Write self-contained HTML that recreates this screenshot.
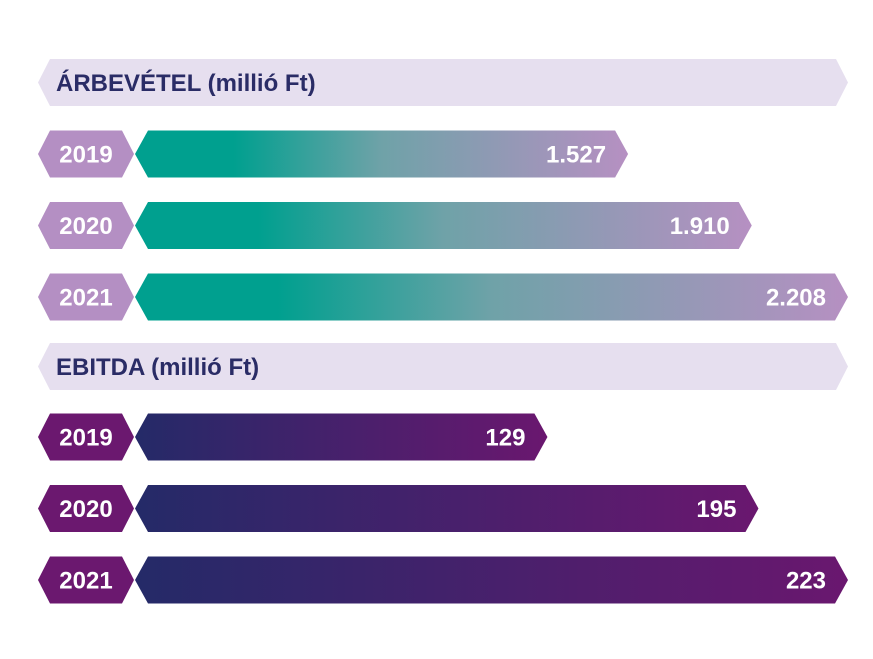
<!DOCTYPE html>
<html><head><meta charset="utf-8"><style>
html,body{margin:0;padding:0;background:#fff;width:873px;height:659px;overflow:hidden}
svg text{font-family:"Liberation Sans",sans-serif;font-weight:bold}
</style></head><body>
<svg id="chart" width="873" height="659">
<defs>
<linearGradient id="gTop" x1="0" x2="1" y1="0" y2="0">
<stop offset="0" stop-color="#00a08f"/><stop offset="0.2" stop-color="#00a08f"/>
<stop offset="0.5" stop-color="#6fa2a8"/><stop offset="1" stop-color="#b690c2"/>
</linearGradient>
<linearGradient id="gBot" x1="0" x2="1" y1="0" y2="0">
<stop offset="0" stop-color="#242a68"/><stop offset="1" stop-color="#6a176f"/>
</linearGradient>
</defs>
</svg>
<script>
const years = ['2019','2020','2021'];
const revenue = [1527, 1910, 2208];
const revenueLabels = ['1.527','1.910','2.208'];
const ebitda = [129, 195, 223];
const ebitdaLabels = ['129','195','223'];
const svg = document.getElementById('chart');
const NS = 'http://www.w3.org/2000/svg';
const X0 = 135, XMAX = 848;
const xRev = v => X0 + (XMAX - X0) * v / 2208;
const xEb = v => X0 + (XMAX - X0) * v / 223;
function hexPath(x1, x2, y, h, t){
  const m = y + h/2;
  return `M${x1},${m} L${x1+t},${y} L${x2-t},${y} L${x2},${m} L${x2-t},${y+h} L${x1+t},${y+h} Z`;
}
function mk(tag, attrs){const e=document.createElementNS(NS,tag);for(const k in attrs)e.setAttribute(k,attrs[k]);svg.appendChild(e);return e;}
function header(y, label, name){
  const p = mk('path',{d:hexPath(38,848,y,47,12),fill:'#e6dfef'});
  
  
  const t = mk('text',{x:56,y:y+32,fill:'#2a2c66','font-size':'24'});
  t.textContent = label;
  
  
}
function section(yStart, values, labels, xf, grad, labelColor, prefix){
  values.forEach((v,i)=>{
    const y = yStart + i*71.5;
    const lab = mk('path',{d:hexPath(38,134,y,47,12),fill:labelColor});
    
    
    const yt = mk('text',{x:86,y:y+32,fill:'#fff','font-size':'24','text-anchor':'middle'});
    yt.textContent = years[i];
    
    
    const xe = xf(v);
    const bar = mk('path',{d:hexPath(135,xe,y,47,13),fill:'url(#'+grad+')'});
    
    
    const vt = mk('text',{x:xe-22,y:y+32,fill:'#fff','font-size':'24','text-anchor':'end'});
    vt.textContent = labels[i];
    
    
  });
}
header(59,'ÁRBEVÉTEL (millió Ft)','revenue');
section(130.5, revenue, revenueLabels, xRev, 'gTop', '#b48fc3', 'revenue');
header(343,'EBITDA (millió Ft)','ebitda');
section(413.5, ebitda, ebitdaLabels, xEb, 'gBot', '#6b186f', 'ebitda');
</script>
</body></html>
